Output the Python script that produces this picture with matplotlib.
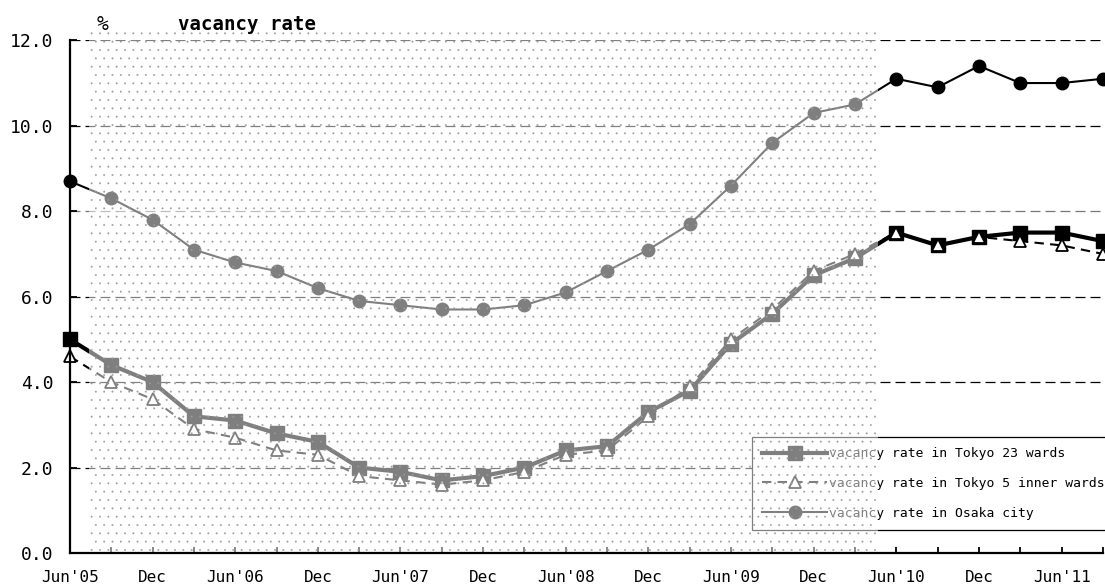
import numpy as np
import matplotlib
matplotlib.use("Agg")
from matplotlib import pyplot as plt
from matplotlib.patches import Rectangle

plt.rcParams['font.family'] = ['DejaVu Sans Mono', 'DejaVu Sans']
plt.rcParams['hatch.linewidth'] = 0.15

# Quarterly vacancy rates (%), Jun'05 .. Sep'11
tick_labels = ["Jun'05", "", "Dec", "", "Jun'06", "", "Dec", "", "Jun'07", "",
               "Dec", "", "Jun'08", "", "Dec", "", "Jun'09", "", "Dec", "",
               "Jun'10", "", "Dec", "", "Jun'11", ""]
tokyo23 = [5.0, 4.4, 4.0, 3.2, 3.1, 2.8, 2.6, 2.0, 1.9, 1.7, 1.8, 2.0, 2.4,
           2.5, 3.3, 3.8, 4.9, 5.6, 6.5, 6.9, 7.5, 7.2, 7.4, 7.5, 7.5, 7.3]
tokyo5 = [4.6, 4.0, 3.6, 2.9, 2.7, 2.4, 2.3, 1.8, 1.7, 1.6, 1.7, 1.9, 2.3,
          2.4, 3.2, 3.9, 5.0, 5.7, 6.6, 7.0, 7.5, 7.2, 7.4, 7.3, 7.2, 7.0]
osaka = [8.7, 8.3, 7.8, 7.1, 6.8, 6.6, 6.2, 5.9, 5.8, 5.7, 5.7, 5.8, 6.1,
         6.6, 7.1, 7.7, 8.6, 9.6, 10.3, 10.5, 11.1, 10.9, 11.4, 11.0, 11.0, 11.1]
y_ticks = [0, 2, 4, 6, 8, 10, 12]

# span of the dotted (older data) band, in quarter index
band_start, band_end = 0.45, 19.55


def main():
    x = np.arange(len(tick_labels))

    fig = plt.figure(figsize=(11.05, 5.86), dpi=100)
    ax = fig.add_axes([0.0633, 0.0563, 0.9348, 0.8749])

    # dashed horizontal guides
    for v in y_ticks[1:]:
        col = "#777777" if v == 8 else "black"
        ax.axhline(v, color=col, lw=0.9, dashes=(8, 4), zorder=1)

    l23, = ax.plot(x, tokyo23, color="black", lw=3.0, marker="s", ms=9.5,
                   mfc="black", mec="black", clip_on=False, zorder=3,
                   label="vacancy rate in Tokyo 23 wards")
    l5, = ax.plot(x, tokyo5, color="black", lw=1.5, dashes=(4.5, 3),
                  marker="^", ms=9, mfc="white", mec="black", mew=1.3,
                  clip_on=False, zorder=3,
                  label="vacancy rate in Tokyo 5 inner wards")
    lo, = ax.plot(x, osaka, color="black", lw=1.5, marker="o", ms=9,
                  mfc="black", mec="black", clip_on=False, zorder=3,
                  label="vacancy rate in Osaka city")

    leg = ax.legend(handles=[l23, l5, lo], loc="upper left",
                    bbox_to_anchor=(0.66, 0.2263, 0.345, 0), mode="expand",
                    borderaxespad=0, fontsize=9.4, numpoints=1,
                    handlelength=5, handletextpad=0.1, borderpad=0.8,
                    labelspacing=1.27, fancybox=False, framealpha=1,
                    edgecolor="black")
    leg.get_frame().set_linewidth(0.9)
    leg.set_zorder(4)

    # whitened, dotted band drawn over the earlier period
    band = Rectangle((band_start, 0), band_end - band_start, 12.2,
                     facecolor=(1, 1, 1, 0.5), edgecolor="#9a9a9a",
                     hatch="..", linewidth=0, clip_on=False, zorder=5)
    ax.add_patch(band)

    ax.set_xlim(0, len(tick_labels) - 1)
    ax.set_ylim(0, 12)
    ax.set_xticks(x)
    ax.set_xticklabels(tick_labels)
    ax.set_yticks(y_ticks)
    ax.set_yticklabels([f"{v:.1f}" for v in y_ticks])

    ax.tick_params(axis="x", direction="in", length=4, width=1.3,
                   labelsize=11.5, pad=12)
    ax.tick_params(axis="y", direction="in", length=5, width=1.3,
                   labelsize=13, pad=12)

    for side in ("top", "right"):
        ax.spines[side].set_visible(False)
    for side in ("left", "bottom"):
        ax.spines[side].set_linewidth(1.6)
        ax.spines[side].set_zorder(6)

    fig.text(0.0878, 0.949, "%", fontsize=14, va="baseline")
    fig.text(0.161, 0.949, "vacancy rate", fontsize=13.7, fontweight="bold",
             va="baseline")

    fig.savefig("out.png", dpi=100)
    return 0


if __name__ == "__main__":
    main()
